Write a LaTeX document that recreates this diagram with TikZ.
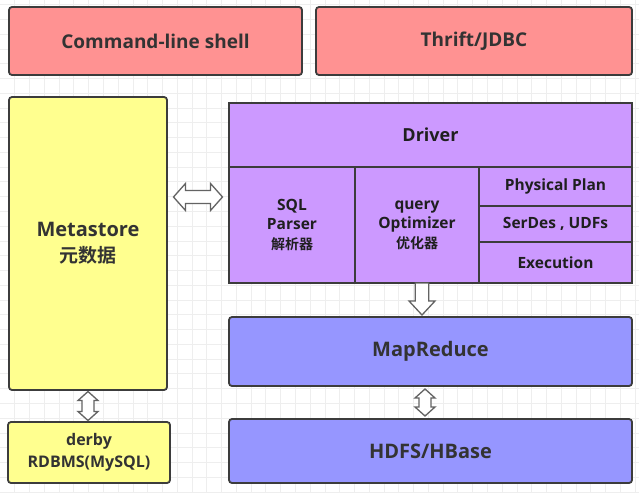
\documentclass[tikz,border=0pt]{standalone}
\usepackage{fontspec}
\setmainfont{Open Sans}
\newfontfamily\cjk{Noto Sans CJK SC}[BoldFont={* Bold}]
\usetikzlibrary{calc}
\definecolor{redf}{HTML}{FF9292}
\definecolor{yelf}{HTML}{FFFF8F}
\definecolor{purf}{HTML}{CC99FF}
\definecolor{bluf}{HTML}{9696FF}
\definecolor{edge}{HTML}{3C3C3C}
\definecolor{txt}{HTML}{333333}
\definecolor{gridc}{HTML}{EEEEEE}
\tikzset{
  box/.style={draw=edge, line width=1.8pt, rounded corners=3pt, inner sep=0pt, align=center, text=txt, font=\bfseries\fontsize{19}{23}\selectfont},
  cell/.style={draw=edge, line width=1.8pt, fill=purf, inner sep=0pt, align=center, text=black!88, font=\bfseries\fontsize{15.5}{19.5}\selectfont},
  blockarrow/.style={draw=edge!80, line width=1.3pt, fill=white, line join=miter},
}
\begin{document}
\begin{tikzpicture}[x=1pt,y=-1pt]
\useasboundingbox (0,0) rectangle (639,492);
\fill[white] (0,0) rectangle (639,492);
% grid
\foreach \i in {1,...,43} { \draw[gridc, line width=0.8pt] (\i*14.77,0) -- (\i*14.77,492); }
\foreach \j in {0,...,33} { \draw[gridc, line width=0.8pt] (0,4.6+\j*14.77) -- (639,4.6+\j*14.77); }
% top
\node[box, fill=redf, minimum width=293pt, minimum height=68pt] (cmd) at (155.5,41) {Command-line shell};
\node[box, fill=redf, minimum width=316pt, minimum height=68pt] (thrift) at (474,41) {Thrift/JDBC};
% metastore
\node[box, fill=yelf, minimum width=158pt, minimum height=293pt, font=\bfseries\fontsize{20}{26}\selectfont] (meta) at (88,243.5) {Metastore\\{\cjk\bfseries\fontsize{19}{26}\selectfont 元数据}};
\node[box, fill=yelf, minimum width=162pt, minimum height=61pt, font=\bfseries\fontsize{16}{22}\selectfont] (derby) at (89,452.5) {derby\\RDBMS(MySQL)};
% driver
\node[cell, minimum width=403pt, minimum height=64pt, font=\bfseries\fontsize{18}{22}\selectfont] (drv) at (430.5,135) {Driver};
\node[cell, minimum width=126pt, minimum height=116pt] (sql) at (292,225) {SQL\\Parser\\{\cjk\bfseries\fontsize{14}{19.5}\selectfont 解析器}};
\node[cell, minimum width=124pt, minimum height=116pt] (opt) at (417,225) {query\\Optimizer\\{\cjk\bfseries\fontsize{14}{19.5}\selectfont 优化器}};
\node[cell, minimum width=153pt, minimum height=39pt] (phys) at (555.5,186.5) {Physical Plan};
\node[cell, minimum width=153pt, minimum height=36pt] (serd) at (555.5,224) {SerDes , UDFs};
\node[cell, minimum width=153pt, minimum height=41pt] (exec) at (555.5,262.5) {Execution};
% lower
\node[box, fill=bluf, minimum width=403pt, minimum height=69pt, font=\bfseries\fontsize{20}{24}\selectfont] (mr) at (430.5,351.5) {MapReduce};
\node[box, fill=bluf, minimum width=403pt, minimum height=64pt, font=\bfseries\fontsize{20}{24}\selectfont] (hdfs) at (430.5,451) {HDFS/HBase};
% arrows
\coordinate (a1) at ($(meta.east |- 0,197)!0.5!(drv.west |- 0,197)$);
\draw[blockarrow, shift={(a1)}] (-24.5,0) -- (-12.5,-13.5) -- (-12.5,-6.5) -- (12.5,-6.5) -- (12.5,-13.5) -- (24.5,0) -- (12.5,13.5) -- (12.5,6.5) -- (-12.5,6.5) -- (-12.5,13.5) -- cycle;
\coordinate (a2) at (422,283);
\draw[blockarrow, shift={(a2)}] (-6.7,0) -- (-6.7,18) -- (-13,18) -- (0,32) -- (13,18) -- (6.7,18) -- (6.7,0) -- cycle;
\coordinate (a3) at ($(mr.south -| 425,0)!0.5!(hdfs.north -| 425,0)$);
\draw[blockarrow, shift={(a3)}] (0,-13.5) -- (10,-4.5) -- (6,-4.5) -- (6,4.5) -- (10,4.5) -- (0,13.5) -- (-10,4.5) -- (-6,4.5) -- (-6,-4.5) -- (-10,-4.5) -- cycle;
\coordinate (a4) at ($(meta.south)!0.5!(derby.north -| meta.south)$);
\draw[blockarrow, shift={(a4)}] (0,-14.5) -- (10,-5.5) -- (6,-5.5) -- (6,5.5) -- (10,5.5) -- (0,14.5) -- (-10,5.5) -- (-6,5.5) -- (-6,-5.5) -- (-10,-5.5) -- cycle;
\end{tikzpicture}
\end{document}
